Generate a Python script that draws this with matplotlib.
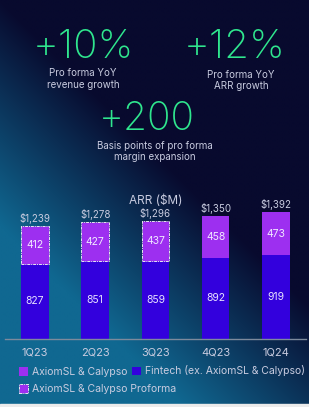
import numpy as np
import matplotlib
matplotlib.use("Agg")
import matplotlib.pyplot as plt
from matplotlib.patches import Patch, Rectangle

plt.rcParams['font.family'] = ['Inter', 'DejaVu Sans']

# data
quarters = ['1Q23', '2Q23', '3Q23', '4Q23', '1Q24']
fintech = [827, 851, 859, 892, 919]
axiom = [412, 427, 437, 458, 473]
proforma = [True, True, True, False, False]
totals = [1239, 1278, 1296, 1350, 1392]

W, H = 309, 407
GREEN = '#2fe68e'
PURPLE = '#9d2ff0'
BLUE = '#3300dd'
LIGHT = '#c9cce0'

fig = plt.figure(figsize=(W / 100, H / 100), dpi=100)

# background gradient (teal bottom-left -> dark navy top-right)
bg = fig.add_axes([0, 0, 1, 1])
xx, yy = np.meshgrid(np.linspace(0, 1, 200), np.linspace(0, 1, 260))
s = np.clip(1.8 * yy - 1.35 * xx, 0, 1)
dark = np.array([8, 10, 46]) / 255
teal = np.array([16, 104, 145]) / 255
img = dark[None, None, :] * (1 - s[..., None]) + teal[None, None, :] * s[..., None]
bg.imshow(img, aspect='auto', extent=[0, 1, 1, 0], interpolation='bilinear')
bg.set_xlim(0, 1)
bg.set_ylim(1, 0)
bg.axis('off')
fig.patches.append(Rectangle((0, 0), 1, 3.5 / H, transform=fig.transFigure,
                             color='#ebebeb', zorder=5))


def ftext(x, y, s, **kw):
    fig.text(x / W, 1 - y / H, s, ha='center', va='center', **kw)


# headline figures
ftext(83, 47, '+10%', color=GREEN, fontsize=29, fontweight='light')
ftext(83, 73, 'Pro forma YoY', color=LIGHT, fontsize=7)
ftext(83, 84.5, 'revenue growth', color=LIGHT, fontsize=7)
ftext(235, 48, '+12%', color=GREEN, fontsize=29, fontweight='light')
ftext(241, 74.5, 'Pro forma YoY', color=LIGHT, fontsize=7)
ftext(241, 86, 'ARR growth', color=LIGHT, fontsize=7)
ftext(147, 120, '+200', color=GREEN, fontsize=28, fontweight='light')
ftext(155, 146, 'Basis points of pro forma', color=LIGHT, fontsize=7)
ftext(155, 157, 'margin expansion', color=LIGHT, fontsize=7)
ftext(156, 201, 'ARR ($M)', color=LIGHT, fontsize=8.5)

# bar chart
ax = fig.add_axes([4.9 / W, (H - 339) / H, 301 / W, 136.9 / H])
ax.set_facecolor('none')
x = np.arange(len(quarters))
b1 = ax.bar(x, fintech, width=0.46, color=BLUE)
b2 = ax.bar(x, axiom, width=0.46, bottom=fintech, color=PURPLE)
for bar, pf in zip(b2, proforma):
    if pf:
        bar.set_edgecolor('#e8e8f0')
        bar.set_linestyle((0, (3, 1, 1, 1)))
        bar.set_linewidth(0.7)
ax.bar_label(b1, label_type='center', color='#e6e0ff', fontsize=7.5)
ax.bar_label(b2, label_type='center', color='#f0e8ff', fontsize=7.5)
ax.bar_label(b2, labels=['${:,}'.format(t) for t in totals], padding=1.5,
             color=LIGHT, fontsize=7)

ax.set_xlim(-0.5, 4.5)
ax.set_ylim(0, 1500)
ax.set_xticks(x)
ax.set_xticklabels(quarters, color=LIGHT, fontsize=8)
ax.tick_params(axis='x', length=0, pad=6)
ax.set_yticks([])
for sp in ['top', 'right', 'left']:
    ax.spines[sp].set_visible(False)
ax.spines['bottom'].set_color('#7d8a9c')
ax.spines['bottom'].set_linewidth(1)

# legend: one small legend per entry to match the layout
leg_kw = dict(loc='center left', frameon=False, fontsize=7.5, labelcolor=LIGHT,
              handlelength=0.85, handleheight=0.85, handletextpad=0.4,
              borderpad=0, borderaxespad=0)
fig.legend(handles=[Patch(facecolor=PURPLE, label='AxiomSL & Calypso')],
           bbox_to_anchor=(19 / W, 1 - 372 / H), **leg_kw)
fig.legend(handles=[Patch(facecolor=BLUE, label='Fintech (ex. AxiomSL & Calypso)')],
           bbox_to_anchor=(132 / W, 1 - 371 / H), **leg_kw)
fig.legend(handles=[Patch(facecolor=PURPLE, edgecolor='#e8e8f0',
                          linestyle=(0, (3, 1, 1, 1)), linewidth=0.7,
                          label='AxiomSL & Calypso Proforma')],
           bbox_to_anchor=(19 / W, 1 - 389 / H), **leg_kw)

fig.savefig('out.png', dpi=100)
